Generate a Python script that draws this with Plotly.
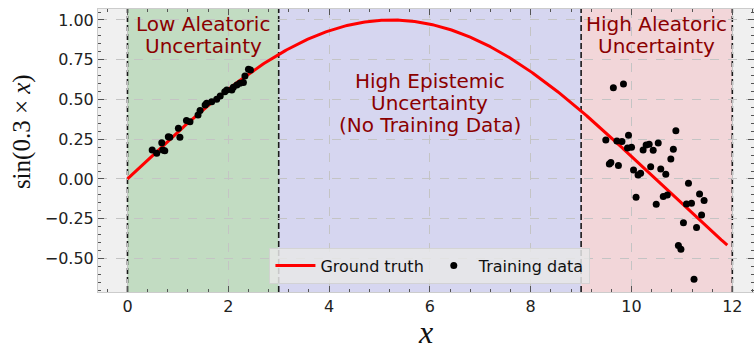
import numpy as np
import plotly.graph_objects as go

# Training samples: low-noise cluster on [0.5, 2.5], high-noise cluster on [9.5, 11.5]
x_low = [0.49, 0.58, 0.70, 0.74, 0.68, 0.81, 0.84, 1.04, 1.01, 1.17, 1.24, 1.40,
         1.44, 1.54, 1.57, 1.67, 1.77, 1.84, 1.93, 1.97, 2.07, 2.10, 2.17, 2.23,
         2.30, 2.33, 2.40, 2.44]
y_low = [0.182, 0.161, 0.182, 0.178, 0.228, 0.266, 0.262, 0.262, 0.319, 0.367, 0.360, 0.402,
         0.430, 0.465, 0.476, 0.486, 0.501, 0.522, 0.549, 0.560, 0.560, 0.577, 0.591, 0.602,
         0.606, 0.648, 0.690, 0.686]

x_high = [9.64, 9.84, 10.88, 9.94, 9.49, 9.71, 9.81, 9.92, 10.00, 10.23, 10.29, 10.35,
          10.53, 10.43, 10.83, 10.78, 9.56, 9.59, 9.74, 10.04, 10.13, 10.18, 10.38, 10.58,
          10.68, 11.13, 10.09, 10.63, 10.71, 11.35, 11.44, 10.49, 11.09, 11.19, 11.39,
          11.03, 11.29, 10.93, 10.98, 11.24]
y_high = [0.574, 0.597, 0.304, 0.275, 0.245, 0.239, 0.235, 0.195, 0.199, 0.182, 0.214, 0.218,
          0.226, 0.180, 0.187, 0.126, 0.094, 0.103, 0.084, 0.057, 0.025, 0.036, 0.077, 0.063,
          0.030, -0.027, -0.115, -0.111, -0.101, -0.094, -0.136, -0.159, -0.157, -0.153, -0.226,
          -0.275, -0.306, -0.419, -0.442, -0.631]

# Region boundaries and labels
region_edges = [0, 3, 9, 12]
region_colors = ["rgb(194,220,194)", "rgb(214,214,240)", "rgb(242,214,217)"]
region_labels = [["Low Aleatoric", "Uncertainty"],
                 ["High Epistemic", "Uncertainty", "(No Training Data)"],
                 ["High Aleatoric", "Uncertainty"]]
label_y = [0.905, 0.478, 0.905]
line_gap = 22  # px between label lines

x_ticks = [0, 2, 4, 6, 8, 10, 12]
y_ticks = [-0.5, -0.25, 0.0, 0.25, 0.5, 0.75, 1.0]

x_curve = np.linspace(0, 11.9, 400)
y_curve = np.sin(0.3 * x_curve)

fig = go.Figure()

fig.add_trace(go.Scatter(
    x=x_curve, y=y_curve, mode="lines", name="Ground truth",
    line=dict(color="#ff0000", width=3),
))
fig.add_trace(go.Scatter(
    x=x_low + x_high, y=y_low + y_high, mode="markers", name="Training data",
    marker=dict(color="black", size=7),
))

shapes = []
for i in range(3):
    shapes.append(dict(type="rect", xref="x", yref="paper",
                       x0=region_edges[i], x1=region_edges[i + 1], y0=0, y1=1,
                       fillcolor=region_colors[i], line=dict(width=0), layer="below"))
for e in region_edges:
    shapes.append(dict(type="line", xref="x", yref="paper", x0=e, x1=e, y0=0, y1=1,
                       line=dict(color="#1a1a1a", width=1.6, dash="6px,3px"), layer="between"))

annotations = []
for i in range(3):
    lines = region_labels[i]
    n = len(lines)
    for k, txt in enumerate(lines):
        annotations.append(dict(
            x=(region_edges[i] + region_edges[i + 1]) / 2, y=label_y[i], xref="x", yref="y",
            text=txt, showarrow=False, yanchor="middle",
            yshift=((n - 1) / 2 - k) * line_gap,
            font=dict(family="DejaVu Sans", size=20, color="#8b0000"),
        ))

# y-axis label placed as rotated text
annotations.append(dict(
    x=(22 - 98) / 656, xref="paper", y=0.565, yref="paper", text="sin(0.3 × <i>x</i>)",
    showarrow=False, textangle=-90, xanchor="center", yanchor="middle",
    font=dict(family="Liberation Serif", size=25, color="#111111"),
))

axis_common = dict(
    showline=True, linecolor="#cccccc", linewidth=1, mirror="ticks",
    ticks="inside", ticklen=6, tickcolor="#555555", tickwidth=1,
    showgrid=True, gridcolor="#c4c4c4", griddash="dash", gridwidth=1,
    zeroline=False,
    tickfont=dict(family="DejaVu Sans", size=16, color="#222222"),
)

fig.update_layout(
    width=754, height=350,
    margin=dict(l=98, r=0, t=9, b=58),
    paper_bgcolor="white", plot_bgcolor="rgb(240,240,240)",
    shapes=shapes, annotations=annotations,
    xaxis=dict(range=[-0.585, 12.43], tickvals=x_ticks,
               minor=dict(dtick=0.4, tick0=0, ticks="inside", ticklen=3,
                          tickcolor="#555555", showgrid=False),
               title=dict(text="<i>x</i>", standoff=12,
                          font=dict(family="Liberation Serif", size=32, color="#111111")),
               **axis_common),
    yaxis=dict(range=[-0.711, 1.069], tickvals=y_ticks, tickformat=".2f",
               minor=dict(dtick=0.05, tick0=0, ticks="inside", ticklen=3,
                          tickcolor="#555555", showgrid=False),
               **axis_common),
    legend=dict(orientation="h", x=0.506, xanchor="center", y=0.03, yanchor="bottom",
                bgcolor="rgba(232,232,232,0.85)", bordercolor="rgba(210,210,210,0.9)",
                borderwidth=1, font=dict(family="DejaVu Sans", size=16, color="#111111"),
                itemwidth=40, entrywidthmode="pixels"),
    showlegend=True,
)

fig.write_html("out.html")
